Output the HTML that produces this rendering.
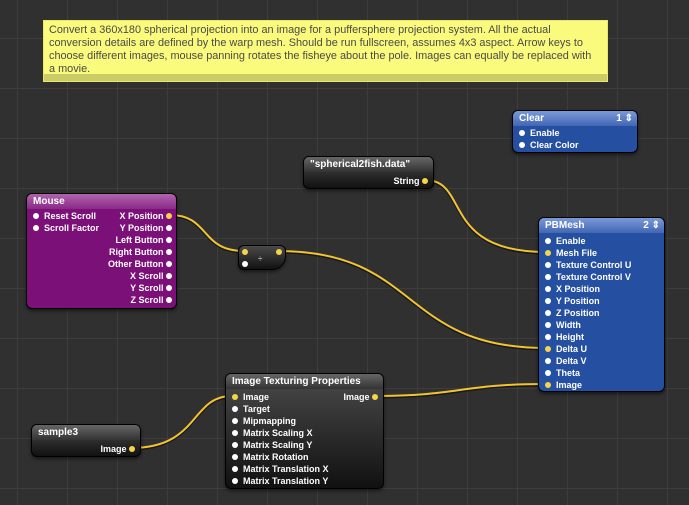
<!DOCTYPE html>
<html><head><meta charset="utf-8"><style>
body{margin:0;width:689px;height:505px;overflow:hidden;background:#303030;font-family:"Liberation Sans",sans-serif;position:relative}
.grid{position:absolute;inset:0;background-image:linear-gradient(to right,#3d3d3d 1px,transparent 1px),linear-gradient(to bottom,#3d3d3d 1px,transparent 1px);background-size:50px 50px;background-position:17px 38px}
.note{position:absolute;left:43px;top:20px;width:565px;height:62px;background:#fafa7c;box-sizing:border-box;border:1px solid #e8e86a;overflow:hidden}
.note p{margin:0;padding:3px 5px;font-size:10.9px;line-height:13px;color:#4a4a4a;white-space:nowrap}
.note .strip{position:absolute;left:0;right:0;bottom:0;height:7px;background:#cccc66}
.n{position:absolute;border:1px solid #000;border-radius:6px;box-sizing:border-box;color:#fff;font-weight:bold;font-size:9px;box-shadow:0 2px 3px rgba(0,0,0,.5);overflow:hidden}
.h{height:15px;line-height:15px;padding-left:6px;font-size:10px}
.blk{background:linear-gradient(#4a4a4a,#111)}
.blk .h{background:linear-gradient(#666,#333)}
.pur{background:#7c1079}
.pur .h{background:linear-gradient(#b063ad,#8a2a87)}
.blu{background:#254fa0}
.blu .h{background:linear-gradient(#7a9ad8,#4366b4)}
.r{position:absolute;height:12px;line-height:12px;white-space:nowrap}
.d{display:inline-block;width:6px;height:6px;border-radius:50%;background:#fff;vertical-align:middle;position:relative;top:-1px}
.y{background:#f6d44a}
.ar{position:absolute;right:4px;top:0;font-size:10px}
</style></head><body>
<div class="grid"></div>
<div class="note"><p>Convert a 360x180 spherical projection into an image for a puffersphere projection system. All the actual<br>conversion details are defined by the warp mesh. Should be run fullscreen, assumes 4x3 aspect. Arrow keys to<br>choose different images, mouse panning rotates the fisheye about the pole. Images can equally be replaced with<br>a movie.</p><div class="strip"></div></div>

<svg width="689" height="505" style="position:absolute;left:0;top:0">
<g fill="none" stroke-width="3" stroke="#000" opacity=".5">
<path d="M170 216 C210 216,200 252,244 252"/><path d="M278 252 C420 252,400 349,546 349"/>
<path d="M425 181 C470 181,440 253,546 253"/><path d="M375 397 C460 397,460 385,546 385"/>
<path d="M131 449 C200 449,190 397,232 397"/></g>
<g fill="none" stroke-width="2" stroke="#f2c530">
<path d="M170 215 C210 215,200 251,244 251"/><path d="M278 251 C420 251,400 348,546 348"/>
<path d="M425 180 C470 180,440 252,546 252"/><path d="M375 396 C460 396,460 384,546 384"/>
<path d="M131 448 C200 448,190 396,232 396"/></g>
</svg>

<div class="n blu" style="left:512px;top:110px;width:126px;height:43px"><div class="h">Clear<span class="ar">1 ⇕</span></div>
<div class="r" style="left:6px;top:16px"><span class="d"></span>&nbsp; Enable</div>
<div class="r" style="left:6px;top:28px"><span class="d"></span>&nbsp; Clear Color</div></div>

<div class="n blk" style="left:303px;top:156px;width:131px;height:33px"><div class="h">"spherical2fish.data"</div>
<div class="r" style="right:5px;top:18px">String <span class="d y"></span></div></div>

<div class="n pur" style="left:26px;top:193px;width:151px;height:116px"><div class="h">Mouse</div>
<div class="r" style="left:6px;top:16px"><span class="d"></span>&nbsp; Reset Scroll</div>
<div class="r" style="left:6px;top:28px"><span class="d"></span>&nbsp; Scroll Factor</div>
<div class="r" style="right:4px;top:16px">X Position <span class="d y"></span></div>
<div class="r" style="right:4px;top:28px">Y Position <span class="d"></span></div>
<div class="r" style="right:4px;top:40px">Left Button <span class="d"></span></div>
<div class="r" style="right:4px;top:52px">Right Button <span class="d"></span></div>
<div class="r" style="right:4px;top:64px">Other Button <span class="d"></span></div>
<div class="r" style="right:4px;top:76px">X Scroll <span class="d"></span></div>
<div class="r" style="right:4px;top:88px">Y Scroll <span class="d"></span></div>
<div class="r" style="right:4px;top:100px">Z Scroll <span class="d"></span></div></div>

<div class="n blk" style="left:238px;top:245px;width:48px;height:25px;border-radius:6px 6px 14px 6px">
<div class="r" style="left:3px;top:0"><span class="d y"></span></div>
<div class="r" style="right:3px;top:0"><span class="d y"></span></div>
<div class="r" style="left:3px;top:12px"><span class="d"></span></div>
<div class="r" style="left:19px;top:7px;color:#aaa;font-size:8px">÷</div></div>

<div class="n blu" style="left:538px;top:217px;width:127px;height:175px"><div class="h">PBMesh<span class="ar">2 ⇕</span></div>
<div class="r" style="left:6px;top:17px"><span class="d"></span>&nbsp; Enable</div>
<div class="r" style="left:6px;top:29px"><span class="d y"></span>&nbsp; Mesh File</div>
<div class="r" style="left:6px;top:41px"><span class="d"></span>&nbsp; Texture Control U</div>
<div class="r" style="left:6px;top:53px"><span class="d"></span>&nbsp; Texture Control V</div>
<div class="r" style="left:6px;top:65px"><span class="d"></span>&nbsp; X Position</div>
<div class="r" style="left:6px;top:77px"><span class="d"></span>&nbsp; Y Position</div>
<div class="r" style="left:6px;top:89px"><span class="d"></span>&nbsp; Z Position</div>
<div class="r" style="left:6px;top:101px"><span class="d"></span>&nbsp; Width</div>
<div class="r" style="left:6px;top:113px"><span class="d"></span>&nbsp; Height</div>
<div class="r" style="left:6px;top:125px"><span class="d y"></span>&nbsp; Delta U</div>
<div class="r" style="left:6px;top:137px"><span class="d"></span>&nbsp; Delta V</div>
<div class="r" style="left:6px;top:149px"><span class="d"></span>&nbsp; Theta</div>
<div class="r" style="left:6px;top:161px"><span class="d y"></span>&nbsp; Image</div></div>

<div class="n blk" style="left:225px;top:373px;width:159px;height:116px"><div class="h">Image Texturing Properties</div>
<div class="r" style="left:6px;top:17px"><span class="d y"></span>&nbsp; Image</div>
<div class="r" style="right:5px;top:17px">Image <span class="d y"></span></div>
<div class="r" style="left:6px;top:29px"><span class="d"></span>&nbsp; Target</div>
<div class="r" style="left:6px;top:41px"><span class="d"></span>&nbsp; Mipmapping</div>
<div class="r" style="left:6px;top:53px"><span class="d"></span>&nbsp; Matrix Scaling X</div>
<div class="r" style="left:6px;top:65px"><span class="d"></span>&nbsp; Matrix Scaling Y</div>
<div class="r" style="left:6px;top:77px"><span class="d"></span>&nbsp; Matrix Rotation</div>
<div class="r" style="left:6px;top:89px"><span class="d"></span>&nbsp; Matrix Translation X</div>
<div class="r" style="left:6px;top:101px"><span class="d"></span>&nbsp; Matrix Translation Y</div></div>

<div class="n blk" style="left:31px;top:424px;width:110px;height:33px"><div class="h">sample3</div>
<div class="r" style="right:5px;top:18px">Image <span class="d y"></span></div></div>
</body></html>
